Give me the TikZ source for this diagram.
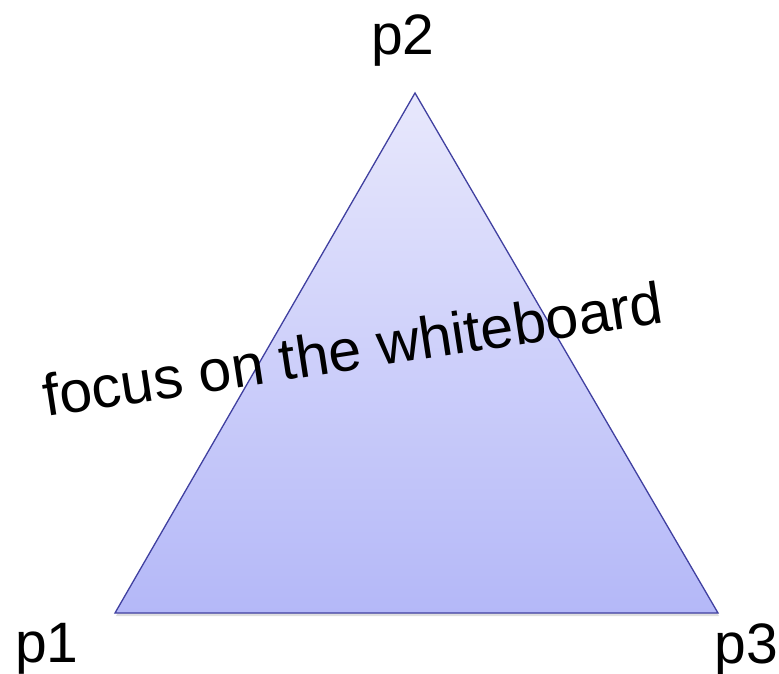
\documentclass[tikz,border=0pt]{standalone}
\usepackage{fontspec}
\setmainfont{Liberation Sans}
\definecolor{edgeblue}{HTML}{4040A0}
\definecolor{topfill}{HTML}{E8E8FC}
\definecolor{botfill}{HTML}{B4B8F8}
\tikzset{lbl/.style={inner sep=0pt,font=\fontsize{57}{60}\selectfont}}
\begin{document}
\begin{tikzpicture}[x=1pt,y=1pt]
\useasboundingbox (0,0) rectangle (779,673);
\coordinate (a) at (115,60);
\coordinate (b) at (415,580);
\coordinate (c) at (718,60);
\fill[black!25,opacity=0.5] ([shift={(1,-3)}]a) -- ([shift={(1,-3)}]b) -- ([shift={(1,-3)}]c) -- cycle;
\shade[top color=topfill,bottom color=botfill,draw=edgeblue,line width=1.3pt,line join=miter] (a) -- (b) -- (c) -- cycle;
\node[lbl,anchor=base] (p2) at (403,618) {p2};
\node[lbl,anchor=base west] (p1) at (15,11) {p1};
\node[lbl,anchor=base east] (p3) at (778,10) {p3};
\node[lbl,anchor=base west,rotate=8.7,font=\fontsize{59}{62}\selectfont] (focus) at (46,256) {focus on the whiteboard};
\end{tikzpicture}
\end{document}
